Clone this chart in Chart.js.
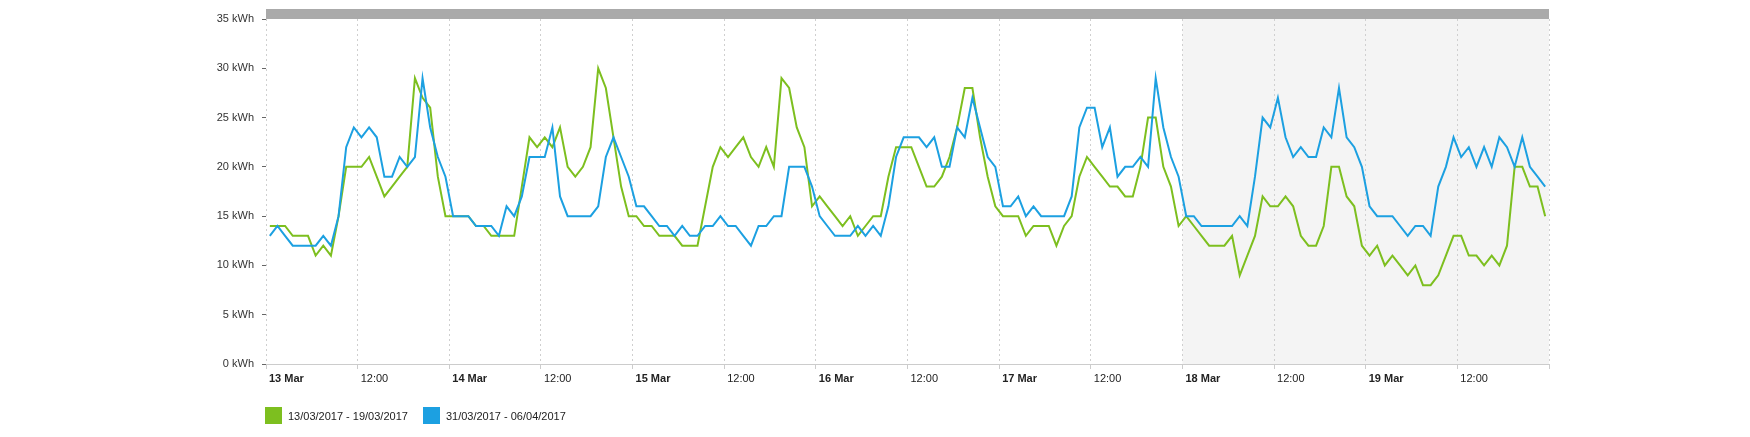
<!DOCTYPE html>
<html>
<head>
<meta charset="utf-8">
<script src="https://cdn.jsdelivr.net/npm/chart.js@4.4.0/dist/chart.umd.min.js"></script>
<style>
    body { margin: 0; background: #fff; }
    .grafico { position: relative; width: 1750px; height: 437px; }
    #legenda { position: absolute; left: 265px; top: 407px; display: flex; font: 11px "Liberation Sans", Arial, sans-serif; color: #222; }
    #legenda .item { display: flex; align-items: center; margin-right: 15px; }
    #legenda .caixa { width: 17px; height: 17px; margin-right: 6px; }
</style>
</head>
<body>
<div class="grafico">
    <canvas id="myChart" width="1750" height="437"></canvas>
    <div id="legenda"></div>
</div>
<script>
const canvasChart = document.getElementById('myChart');

// dias do eixo x (um ponto por hora)
const dias = ['13 Mar', '14 Mar', '15 Mar', '16 Mar', '17 Mar', '18 Mar', '19 Mar'];
const fimDeSemana = '18 Mar';

const legendas = ['13/03/2017 - 19/03/2017', '31/03/2017 - 06/04/2017'];

// kWh por hora
const periodo1 = [
    14, 14, 14, 13, 13, 13, 11, 12, 11, 15, 20, 20, 20, 21, 19, 17, 18, 19, 20, 29, 27, 26, 19, 15,
    15, 15, 15, 14, 14, 13, 13, 13, 13, 18, 23, 22, 23, 22, 24, 20, 19, 20, 22, 30, 28, 23, 18, 15,
    15, 14, 14, 13, 13, 13, 12, 12, 12, 16, 20, 22, 21, 22, 23, 21, 20, 22, 20, 29, 28, 24, 22, 16,
    17, 16, 15, 14, 15, 13, 14, 15, 15, 19, 22, 22, 22, 20, 18, 18, 19, 21, 24, 28, 28, 23, 19, 16,
    15, 15, 15, 13, 14, 14, 14, 12, 14, 15, 19, 21, 20, 19, 18, 18, 17, 17, 20, 25, 25, 20, 18, 14,
    15, 14, 13, 12, 12, 12, 13, 9, 11, 13, 17, 16, 16, 17, 16, 13, 12, 12, 14, 20, 20, 17, 16, 12,
    11, 12, 10, 11, 10, 9, 10, 8, 8, 9, 11, 13, 13, 11, 11, 10, 11, 10, 12, 20, 20, 18, 18, 15
];

const periodo2 = [
    13, 14, 13, 12, 12, 12, 12, 13, 12, 15, 22, 24, 23, 24, 23, 19, 19, 21, 20, 21, 29, 24, 21, 19,
    15, 15, 15, 14, 14, 14, 13, 16, 15, 17, 21, 21, 21, 24, 17, 15, 15, 15, 15, 16, 21, 23, 21, 19,
    16, 16, 15, 14, 14, 13, 14, 13, 13, 14, 14, 15, 14, 14, 13, 12, 14, 14, 15, 15, 20, 20, 20, 18,
    15, 14, 13, 13, 13, 14, 13, 14, 13, 16, 21, 23, 23, 23, 22, 23, 20, 20, 24, 23, 27, 24, 21, 20,
    16, 16, 17, 15, 16, 15, 15, 15, 15, 17, 24, 26, 26, 22, 24, 19, 20, 20, 21, 20, 29, 24, 21, 19,
    15, 15, 14, 14, 14, 14, 14, 15, 14, 19, 25, 24, 27, 23, 21, 22, 21, 21, 24, 23, 28, 23, 22, 20,
    16, 15, 15, 15, 14, 13, 14, 14, 13, 18, 20, 23, 21, 22, 20, 22, 20, 23, 22, 20, 23, 20, 19, 18
];

const cores = ['#7dbf1f', '#1ca0e1'];

// cada leitura fica no meio da sua hora
const pontos = serie => serie.map((v, i) => ({ x: i + 0.5, y: v }));

const fundo = {
    id: 'fundo',
    beforeDraw(chart) {
        const { ctx, chartArea: a, scales: { x } } = chart;
        const x0 = x.getPixelForValue(dias.indexOf(fimDeSemana) * 24);
        ctx.save();
        ctx.fillStyle = '#f4f4f4';
        ctx.fillRect(x0, a.top, a.right - x0, a.bottom - a.top);
        ctx.fillStyle = '#aaaaaa';
        ctx.fillRect(a.left, a.top - 10, a.right - a.left, 10);
        ctx.restore();
    }
};

Chart.defaults.font.family = '"Liberation Sans", Arial, sans-serif';
Chart.defaults.font.size = 11;

const myChart = new Chart(canvasChart, {
    type: 'line',
    data: {
        datasets: [{
            label: legendas[0],
            data: pontos(periodo1),
            borderColor: cores[0],
            backgroundColor: cores[0],
            borderWidth: 2,
            pointRadius: 0,
            order: 1
        }, {
            label: legendas[1],
            data: pontos(periodo2),
            borderColor: cores[1],
            backgroundColor: cores[1],
            borderWidth: 2,
            pointRadius: 0,
            order: 0
        }]
    },
    options: {
        responsive: false,
        animation: false,
        layout: { padding: { left: 0, right: 201, top: 19, bottom: 43 } },
        plugins: {
            legend: { display: false },
            tooltip: { enabled: false }
        },
        scales: {
            x: {
                type: 'linear',
                min: 0,
                max: dias.length * 24,
                afterFit: s => { s.height = 30; },
                border: { display: true, color: '#cccccc', width: 1, dash: [2, 3] },
                grid: {
                    color: '#cfcfcf',
                    tickLength: 5,
                    tickColor: '#cccccc',
                    tickBorderDash: []
                },
                ticks: {
                    stepSize: 12,
                    autoSkip: false,
                    maxRotation: 0,
                    align: 'start',
                    labelOffset: 3,
                    padding: 3,
                    color: '#222',
                    font: ctx => ({ size: 11, weight: ctx.tick && ctx.tick.value % 24 === 0 ? 'bold' : 'normal' }),
                    callback: v => {
                        if (v >= dias.length * 24) return '';
                        return v % 24 === 0 ? dias[v / 24] : '12:00';
                    }
                }
            },
            y: {
                min: 0,
                max: 35,
                afterFit: s => { s.width = 266; },
                border: { display: false },
                grid: {
                    drawOnChartArea: false,
                    tickLength: 4,
                    tickColor: '#666666'
                },
                ticks: {
                    stepSize: 5,
                    padding: 8,
                    color: '#333',
                    callback: v => v + ' kWh'
                }
            }
        }
    },
    plugins: [fundo]
});

// legenda em html
document.getElementById('legenda').innerHTML = myChart.data.datasets.map(ds =>
    `<div class="item"><span class="caixa" style="background:${ds.borderColor}"></span>${ds.label}</div>`
).join('');
</script>
</body>
</html>
